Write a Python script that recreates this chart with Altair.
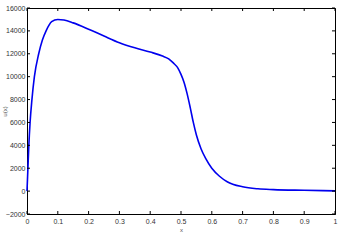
import altair as alt
import pandas as pd

xs = [0, 0.003, 0.006, 0.010, 0.016, 0.024, 0.038, 0.05, 0.062, 0.08, 0.10, 0.12, 0.15,
      0.2, 0.25, 0.3, 0.35, 0.4, 0.44, 0.46, 0.475, 0.49, 0.5, 0.51, 0.52, 0.53, 0.54, 0.55,
      0.565, 0.58, 0.6, 0.625, 0.65, 0.7, 0.75, 0.8, 0.9, 1.0]
us = [0, 2000, 4000, 6000, 8000, 10000, 12000, 13200, 14000, 14800, 15000, 14950, 14700,
      14150, 13550, 12970, 12520, 12150, 11800, 11550, 11200, 10750, 10200, 9500, 8500, 7300, 6000, 4900,
      3700, 2850, 2000, 1300, 820, 380, 200, 130, 70, 20]

x_ticks = [0, 0.1, 0.2, 0.3, 0.4, 0.5, 0.6, 0.7, 0.8, 0.9, 1.0]
y_ticks = [-2000, 0, 2000, 4000, 6000, 8000, 10000, 12000, 14000, 16000]

W, H = 308, 206
TL = 3

df = pd.DataFrame({"x": xs, "u": us})
dfx = pd.DataFrame({"t": x_ticks})
dfy = pd.DataFrame({"t": y_ticks})

xscale = alt.Scale(domain=[0, 1], nice=False)
yscale = alt.Scale(domain=[-2000, 16000], nice=False)

fnt = "Liberation Sans"
xaxis = alt.Axis(values=x_ticks, labelExpr="datum.value == 0 ? '0' : datum.value == 1 ? '1' : format(datum.value, '.1f')",
                 ticks=False, grid=False, labelFont=fnt, labelFontSize=7, labelColor="#333333",
                 labelPadding=3, labelOverlap=False, title="x", titleFont=fnt, titleFontSize=6,
                 titleFontWeight="normal", titleColor="#555555", titlePadding=2, domainColor="black",
                 labelFlush=False)
yaxis = alt.Axis(values=y_ticks, format="d", ticks=False, grid=False, labelFont=fnt, labelFontSize=7,
                 labelColor="#333333", labelPadding=2, labelOverlap=False, labelFlush=False,
                 title="u(x)", titleFont=fnt, titleFontSize=6,
                 titleFontWeight="normal", titleColor="#555555", titleX=-23, titleY=H / 2,
                 titleBaseline="middle", domainColor="black")

line = alt.Chart(df).mark_line(color="#0000ee", strokeWidth=1.6, interpolate="monotone").encode(
    x=alt.X("x:Q", scale=xscale, axis=xaxis, title="x"),
    y=alt.Y("u:Q", scale=yscale, axis=yaxis, title="u(x)"),
)

bt = alt.Chart(dfx).mark_rule(color="black", strokeWidth=1).encode(
    x=alt.X("t:Q", scale=xscale, axis=xaxis, title="x"), y=alt.value(H), y2=alt.value(H - TL))
tt = alt.Chart(dfx).mark_rule(color="black", strokeWidth=1).encode(
    x=alt.X("t:Q", scale=xscale, axis=xaxis, title="x"), y=alt.value(0), y2=alt.value(TL))
lt = alt.Chart(dfy).mark_rule(color="black", strokeWidth=1).encode(
    y=alt.Y("t:Q", scale=yscale, axis=yaxis, title="u(x)"), x=alt.value(0), x2=alt.value(TL))
rt = alt.Chart(dfy).mark_rule(color="black", strokeWidth=1).encode(
    y=alt.Y("t:Q", scale=yscale, axis=yaxis, title="u(x)"), x=alt.value(W), x2=alt.value(W - TL))

chart = alt.layer(line, bt, tt, lt, rt).properties(
    width=W, height=H,
    autosize=alt.AutoSizeParams(type="none"),
    padding={"left": 27, "top": 8, "right": 5, "bottom": 28},
    background="white",
).configure_view(stroke="black", strokeWidth=1)

chart.save("out.html", embed_options={"renderer": "svg", "actions": False})
